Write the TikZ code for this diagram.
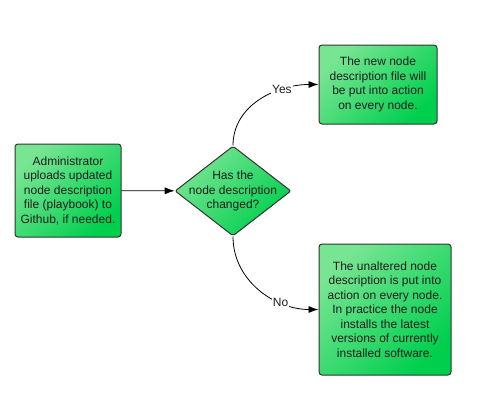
\documentclass[tikz,border=0pt]{standalone}
\usepackage{fontspec}
\setmainfont{Liberation Sans}
\usetikzlibrary{shapes.geometric,arrows.meta}
\definecolor{gLight}{HTML}{78E593}
\definecolor{gDark}{HTML}{00CF4E}
\definecolor{edgeGray}{HTML}{333333}
\definecolor{txt}{HTML}{1E1E1E}
\tikzset{
  bodyfont/.style={font=\fontsize{12}{14.5}\selectfont},
  procbox/.style={draw=edgeGray, line width=1pt, rounded corners=3pt,
    top color=gLight, bottom color=gDark, shading angle=45,
    align=center, text=txt, inner sep=0pt, bodyfont},
  decbox/.style={diamond, draw=edgeGray, line width=1pt, rounded corners=2pt,
    top color=gLight, bottom color=gDark, shading angle=45,
    inner sep=0pt},
  dectext/.style={align=center, text=txt, inner sep=0pt, bodyfont},
  conn/.style={line width=0.8pt, -{Latex[length=10pt,width=7pt]}},
  lbl/.style={fill=white, inner sep=1pt, text=txt,
    font=\fontsize{12}{13}\selectfont}
}
\begin{document}
\begin{tikzpicture}[x=1pt,y=-1pt]
\useasboundingbox (0,0) rectangle (480,407);
\node[procbox, minimum width=106pt, minimum height=93pt] (admin) at (68,190.5)
  {Administrator\\uploads updated\\node description\\file (playbook) to\\Github, if needed.};
\node[decbox, minimum width=116pt, minimum height=90pt] (q) at (233,191) {};
\node[dectext] (qt) at (q.center) {Has the\\node description\\changed?};
\node[procbox, minimum width=118pt, minimum height=79pt] (yes) at (378,84.5)
  {The new node\\description file will\\be put into action\\on every node.};
\node[procbox, minimum width=132pt, minimum height=131pt] (no) at (385,309.5)
  {The unaltered node\\description is put into\\action on every node.\\In practice the node\\installs the latest\\versions of currently\\installed software.};
\draw[conn] (admin) -- (q);
\draw[conn] (q.north) to[out=90,in=180] node[lbl, pos=0.7] {Yes} (yes.west);
\draw[conn] (q.south) to[out=-90,in=180] node[lbl, pos=0.7] {No} (no.west);
\end{tikzpicture}
\end{document}
